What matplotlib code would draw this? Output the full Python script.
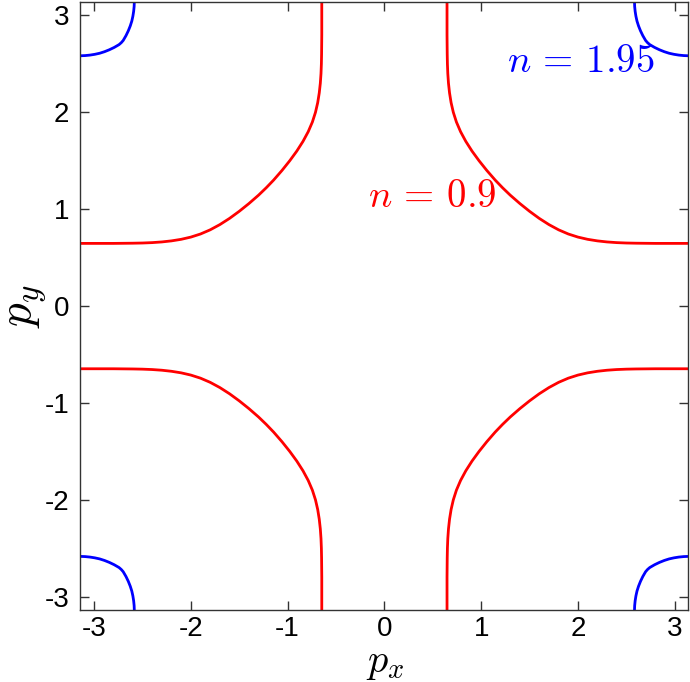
import numpy as np
import matplotlib
matplotlib.use("Agg")
import matplotlib.pyplot as plt

plt.rcParams['mathtext.fontset'] = 'cm'
plt.rcParams['font.family'] = ['Liberation Sans', 'DejaVu Sans']

PI = np.pi
# n = 0.9 contour, first quadrant, half from top edge down to the diagonal (x, y)
red_half_x = [0.647, 0.647, 0.647, 0.648, 0.649, 0.651, 0.655, 0.662, 0.673, 0.689,
              0.712, 0.744, 0.787, 0.841, 0.905, 0.978, 1.058, 1.145, 1.221]
red_half_y = [PI, 3.00, 2.80, 2.70, 2.60, 2.50, 2.40, 2.30, 2.20, 2.10,
              2.00, 1.90, 1.80, 1.70, 1.60, 1.50, 1.40, 1.30, 1.221]
# n = 1.95 contour: offsets from the corner (pi, pi), half from edge to diagonal
blue_half_dx = [0.558, 0.556, 0.551, 0.543, 0.532, 0.516, 0.496, 0.472, 0.443, 0.423]
blue_half_dy = [0.000, 0.050, 0.100, 0.150, 0.200, 0.250, 0.300, 0.350, 0.400, 0.423]

ticks = [-3, -2, -1, 0, 1, 2, 3]
tick_labels = ['-3', '-2', '-1', '0', '1', '2', '3']

def full_quadrant(hx, hy):
    hx = np.asarray(hx); hy = np.asarray(hy)
    x = np.concatenate([hx, hy[::-1][1:]])
    y = np.concatenate([hy, hx[::-1][1:]])
    return x, y

rx, ry = full_quadrant(red_half_x, red_half_y)
bdx, bdy = full_quadrant(blue_half_dx, blue_half_dy)
bx = PI - bdx
by = PI - bdy

fig = plt.figure(figsize=(6.9, 6.82), dpi=100)
ax = fig.add_axes([0.1164, 0.1049, 0.8814, 0.8926])

for sx in (1, -1):
    for sy in (1, -1):
        ax.plot(sx * rx, sy * ry, color='#ff0000', lw=2.0, solid_capstyle='butt',
                solid_joinstyle='round')
        ax.plot(sx * bx, sy * by, color='#0000ff', lw=2.0, solid_capstyle='butt',
                solid_joinstyle='round')

ax.set_xlim(-PI, PI)
ax.set_ylim(-PI, PI)
ax.set_xticks(ticks)
ax.set_xticklabels(tick_labels)
ax.set_yticks(ticks)
ax.set_yticklabels(tick_labels)
ax.tick_params(direction='in', length=6.5, width=1.0, color='#333333',
               top=True, right=True, labelsize=20)
ax.tick_params(axis='x', pad=4)
ax.tick_params(axis='y', pad=8)
for s in ax.spines.values():
    s.set_color('#333333')
    s.set_linewidth(1.0)

ax.set_ylabel(r'$p_y$', fontsize=34, labelpad=-3)
fig.text(0.5584, 0.0, r'$p_x$', fontsize=29, ha='center', va='bottom')

ax.text(1.27, 2.415, r'$n\,=\,1.95$', color='#0000ff', fontsize=28, ha='left', va='baseline')
ax.text(-0.166, 1.019, r'$n\,=\,0.9$', color='#ff0000', fontsize=28, ha='left', va='baseline')

fig.savefig('out.png', dpi=100)
